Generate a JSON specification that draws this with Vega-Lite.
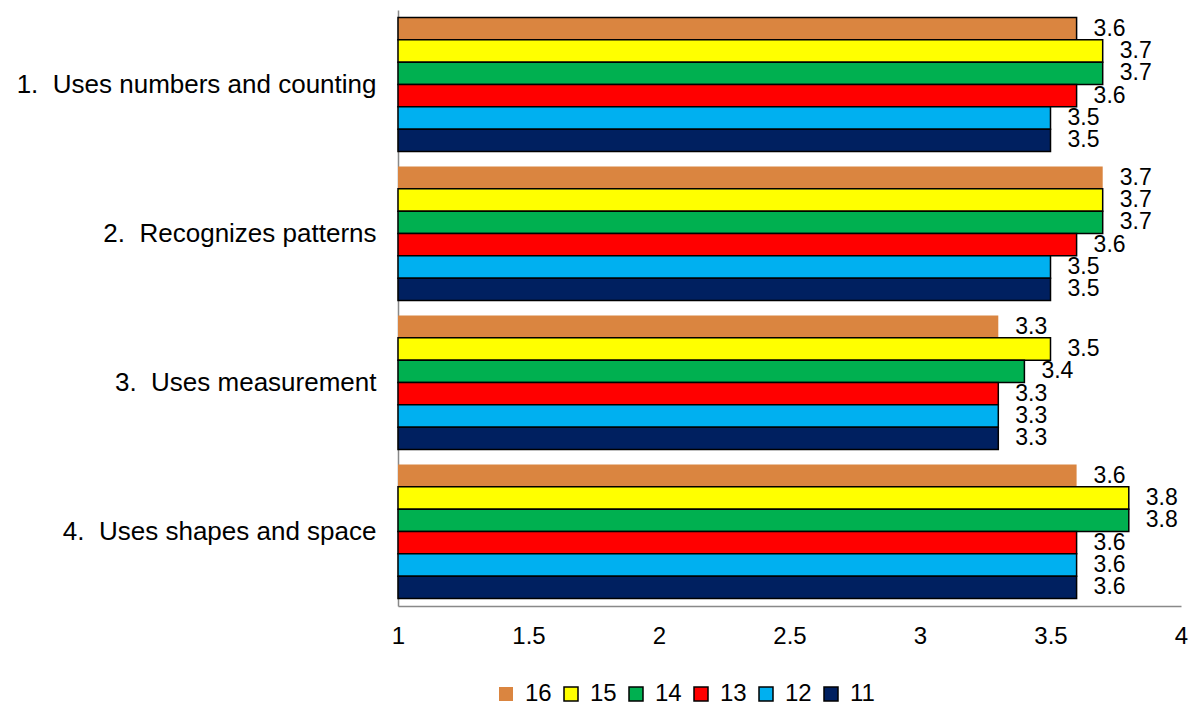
{
  "$schema": "https://vega.github.io/schema/vega-lite/v6.json",
  "width": 783,
  "height": 596,
  "autosize": {"type": "none"},
  "padding": {"left": 398, "top": 10, "right": 12, "bottom": 99},
  "background": "white",
  "config": {"view": {"stroke": null}, "font": "Liberation Sans"},
  "data": {"values": [
    {"cat": "1.  Uses numbers and counting", "series": "16", "v": 3.6},
    {"cat": "1.  Uses numbers and counting", "series": "15", "v": 3.7},
    {"cat": "1.  Uses numbers and counting", "series": "14", "v": 3.7},
    {"cat": "1.  Uses numbers and counting", "series": "13", "v": 3.6},
    {"cat": "1.  Uses numbers and counting", "series": "12", "v": 3.5},
    {"cat": "1.  Uses numbers and counting", "series": "11", "v": 3.5},
    {"cat": "2.  Recognizes patterns", "series": "16", "v": 3.7},
    {"cat": "2.  Recognizes patterns", "series": "15", "v": 3.7},
    {"cat": "2.  Recognizes patterns", "series": "14", "v": 3.7},
    {"cat": "2.  Recognizes patterns", "series": "13", "v": 3.6},
    {"cat": "2.  Recognizes patterns", "series": "12", "v": 3.5},
    {"cat": "2.  Recognizes patterns", "series": "11", "v": 3.5},
    {"cat": "3.  Uses measurement", "series": "16", "v": 3.3},
    {"cat": "3.  Uses measurement", "series": "15", "v": 3.5},
    {"cat": "3.  Uses measurement", "series": "14", "v": 3.4},
    {"cat": "3.  Uses measurement", "series": "13", "v": 3.3},
    {"cat": "3.  Uses measurement", "series": "12", "v": 3.3},
    {"cat": "3.  Uses measurement", "series": "11", "v": 3.3},
    {"cat": "4.  Uses shapes and space", "series": "16", "v": 3.6},
    {"cat": "4.  Uses shapes and space", "series": "15", "v": 3.8},
    {"cat": "4.  Uses shapes and space", "series": "14", "v": 3.8},
    {"cat": "4.  Uses shapes and space", "series": "13", "v": 3.6},
    {"cat": "4.  Uses shapes and space", "series": "12", "v": 3.6},
    {"cat": "4.  Uses shapes and space", "series": "11", "v": 3.6}
  ]},
  "encoding": {
    "y": {
      "field": "cat", "type": "nominal", "title": null,
      "scale": {"paddingInner": 0.1, "paddingOuter": 0.05},
      "axis": {"domainColor": "#898989", "domainWidth": 1.5, "ticks": false, "labelFontSize": 26, "labelColor": "#000000", "labelPadding": 22, "labelLimit": 400, "labelExpr": "replace(datum.label, '.  ', '.\u00a0\u00a0')"}
    },
    "yOffset": {"field": "series", "type": "nominal", "sort": ["16", "15", "14", "13", "12", "11"]},
    "x": {
      "field": "v", "type": "quantitative", "title": null,
      "scale": {"domain": [1, 4], "zero": false, "nice": false},
      "axis": {"values": [1, 1.5, 2, 2.5, 3, 3.5, 4], "format": "~g", "grid": false, "ticks": false, "domainColor": "#898989", "domainWidth": 1.5, "labelFontSize": 24, "labelColor": "#000000", "labelPadding": 18, "labelFlush": false}
    }
  },
  "layer": [
    {
      "mark": {"type": "bar", "stroke": "#000000"},
      "encoding": {
        "x2": {"datum": 1},
        "strokeWidth": {"condition": {"test": "datum.series === '16' && datum.cat !== '1.  Uses numbers and counting'", "value": 0}, "value": 1.5},
        "color": {
          "field": "series", "type": "nominal",
          "sort": ["16", "15", "14", "13", "12", "11"],
          "scale": {"domain": ["16", "15", "14", "13", "12", "11"], "range": ["#DA8540", "#FFFF00", "#00B050", "#FF0000", "#00B0F0", "#002060"]},
          "legend": {
            "title": null, "orient": "none", "direction": "horizontal", "columns": 6,
            "legendX": 96, "legendY": 672,
            "symbolType": "square", "symbolSize": 196, "symbolStrokeColor": "#000000", "symbolStrokeWidth": 1.5,
            "labelFontSize": 24, "labelColor": "#000000", "labelOffset": 7, "columnPadding": 7,
            "encode": {"symbols": {"update": {"strokeWidth": {"signal": "datum.value === '16' ? 0 : 1.5"}}}}
          }
        }
      }
    },
    {
      "mark": {"type": "text", "align": "left", "baseline": "middle", "dx": 17, "fontSize": 23, "color": "#000000"},
      "encoding": {
        "text": {"field": "v", "type": "quantitative", "format": ".1f"}
      }
    }
  ]
}
